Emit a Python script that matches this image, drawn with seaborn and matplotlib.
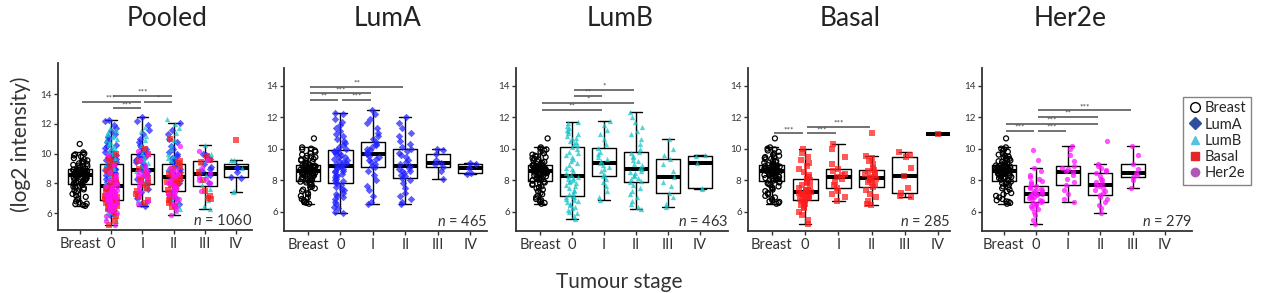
import numpy as np
import pandas as pd
import matplotlib
matplotlib.use("Agg")
import matplotlib.pyplot as plt
import seaborn as sns
from matplotlib.lines import Line2D

# ---------------- data ----------------
stages = ["Breast", "0", "I", "II", "III", "IV"]
subtypes = ["LumA", "LumB", "Basal", "Her2e"]
panels = ["Pooled", "LumA", "LumB", "Basal", "Her2e"]
n_labels = [1060, 465, 463, 285, 279]

breast = [6.5, 6.55, 6.62, 6.65, 6.72, 6.8, 6.9, 7.0, 7.1, 7.18, 7.3, 7.4, 7.48, 7.55, 7.6, 7.7, 7.76, 7.8, 7.85, 7.9, 7.97,
          8.0, 8.03, 8.07, 8.1, 8.13, 8.16, 8.2, 8.24, 8.26, 8.3, 8.33, 8.37, 8.4, 8.42, 8.44, 8.46, 8.48, 8.5, 8.52, 8.55,
          8.57, 8.59, 8.61, 8.63, 8.66, 8.67, 8.69, 8.71, 8.74, 8.75, 8.77, 8.8, 8.81, 8.83, 8.86, 8.87, 8.89, 8.91, 8.93, 8.95,
          9.0, 9.04, 9.1, 9.16, 9.2, 9.25, 9.31, 9.35, 9.4, 9.46, 9.5, 9.55, 9.62, 9.7, 9.8, 9.88, 9.95, 10.0, 10.08, 10.65]

luma_0 = [5.9, 6.0, 6.2, 6.3, 6.5, 6.6, 6.8, 6.9, 7.0, 7.1, 7.2, 7.35, 7.45, 7.55, 7.7, 7.8,
          7.85, 7.95, 8.0, 8.1, 8.2, 8.25, 8.3, 8.4, 8.5, 8.55, 8.6, 8.7, 8.75, 8.8, 8.9,
          8.95, 9.0, 9.1, 9.15, 9.2, 9.3, 9.35, 9.45, 9.5, 9.6, 9.65, 9.7, 9.8, 9.85, 9.92,
          10.0, 10.1, 10.2, 10.35, 10.5, 10.6, 10.8, 10.9, 11.1, 11.3, 11.5, 11.7, 11.9, 12.2, 12.29]
luma_1 = [6.49, 6.6, 7.0, 7.4, 7.6, 8.0, 8.3, 8.6, 8.81, 8.9, 9.0, 9.15, 9.25, 9.35, 9.45, 9.55, 9.64,
          9.7, 9.8, 9.9, 10.0, 10.1, 10.2, 10.3, 10.44, 10.6, 10.8, 11.0, 11.3, 11.6, 11.9, 12.2, 12.45]
luma_2 = [6.49, 6.6, 6.8, 7.0, 7.2, 7.5, 7.8, 8.0, 8.16, 8.25, 8.35, 8.45, 8.55, 8.6, 8.7, 8.8, 8.9,
          9.0, 9.15, 9.3, 9.45, 9.6, 9.7, 9.85, 9.96, 10.1, 10.3, 10.5, 10.8, 11.0, 11.3, 11.6, 12.03]
luma_3 = [8.05, 8.6, 8.86, 9.0, 9.1, 9.3, 9.66, 9.9, 10.0]
luma_4 = [8.4, 8.45, 8.8, 9.05, 9.1]

lumb_0 = [5.51, 5.7, 5.9, 6.0, 6.1, 6.2, 6.3, 6.4, 6.5, 6.6, 6.7, 6.75, 6.8, 6.9, 6.95, 7.0,
          7.1, 7.2, 7.3, 7.4, 7.5, 7.6, 7.7, 7.8, 7.85, 7.95, 8.0, 8.1, 8.15, 8.2, 8.26,
          8.35, 8.45, 8.6, 8.7, 8.8, 8.95, 9.1, 9.2, 9.35, 9.5, 9.6, 9.7, 9.8, 9.95, 10.1,
          10.2, 10.3, 10.4, 10.5, 10.6, 10.7, 10.8, 10.9, 11.0, 11.1, 11.2, 11.3, 11.45, 11.6, 11.7]
lumb_1 = [6.74, 6.9, 7.3, 7.6, 7.9, 8.1, 8.26, 8.4, 8.55, 8.7, 8.85, 8.95, 9.07,
          9.2, 9.35, 9.5, 9.65, 9.8, 10.02, 10.3, 10.6, 10.9, 11.2, 11.5, 11.78]
lumb_2 = [6.15, 6.3, 6.5, 6.7, 6.9, 7.1, 7.3, 7.5, 7.7, 7.86, 7.95, 8.05, 8.15, 8.25, 8.35, 8.45, 8.5, 8.6, 8.69,
          8.8, 8.95, 9.05, 9.2, 9.3, 9.45, 9.55, 9.7, 9.81, 10.0, 10.3, 10.6, 10.9, 11.1, 11.4, 11.7, 12.0, 12.35]
lumb_3 = [6.32, 6.5, 6.9, 7.16, 7.6, 7.9, 8.22, 8.6, 9.0, 9.34, 9.6, 10.0, 10.6]
lumb_4 = [7.45, 7.5, 9.07, 9.55, 9.6]

basal_0 = [5.2, 5.5, 5.8, 6.0, 6.2, 6.3, 6.4, 6.5, 6.6, 6.7, 6.74, 6.8, 6.85, 6.9, 6.95, 7.0, 7.05, 7.1, 7.15, 7.2, 7.23,
           7.3, 7.35, 7.4, 7.5, 7.6, 7.7, 7.8, 7.9, 8.0, 8.05, 8.2, 8.35, 8.5, 8.7, 8.9, 9.1, 9.3, 9.5, 9.7, 9.96]
basal_1 = [6.7, 6.9, 7.1, 7.3, 7.48, 7.7, 7.9, 8.05, 8.22, 8.3, 8.4, 8.55, 8.69, 9.0, 9.5, 10.0, 10.28]
basal_2 = [6.42, 6.5, 6.7, 6.9, 7.1, 7.35, 7.59, 7.7, 7.8, 7.9, 8.0, 8.05, 8.12,
           8.2, 8.3, 8.4, 8.45, 8.55, 8.64, 8.8, 9.0, 9.2, 9.4, 9.53, 10.97]
basal_3 = [6.95, 7.0, 7.16, 7.5, 8.26, 8.8, 9.45, 9.6, 9.81]
basal_4 = [10.93]

her2e_0 = [5.2, 5.5, 5.8, 6.0, 6.15, 6.25, 6.35, 6.45, 6.5, 6.55, 6.63, 6.7, 6.75, 6.8, 6.85, 6.9, 6.95, 7.0, 7.03, 7.06, 7.1,
           7.15, 7.2, 7.25, 7.3, 7.35, 7.4, 7.45, 7.5, 7.58, 7.65, 7.75, 7.85, 7.95, 8.05, 8.2, 8.35, 8.55, 8.75, 9.25, 9.9]
her2e_1 = [6.63, 6.8, 7.1, 7.4, 7.69, 7.9, 8.1, 8.35, 8.54, 8.6, 8.7, 8.8, 8.9, 9.2, 9.6, 10.0, 10.17]
her2e_2 = [5.9, 6.2, 6.4, 6.6, 6.8, 6.95, 7.06, 7.2, 7.3, 7.4, 7.5, 7.6, 7.69,
           7.8, 7.9, 8.0, 8.1, 8.25, 8.43, 8.55, 8.65, 8.8, 8.9, 9.02, 10.5]
her2e_3 = [7.52, 8.0, 8.22, 8.3, 8.43, 8.7, 9.02, 9.6, 10.17]
her2e_4 = []

# significance brackets: (from stage, to stage, height, label)
sig_pooled = [("0", "I", 13.04, "***"), ("Breast", "I", 13.45, "***"), ("I", "II", 13.45, "*"), ("0", "II", 13.9, "***")]
sig_luma = [("Breast", "0", 13.09, "**"), ("0", "I", 13.09, "***"), ("Breast", "I", 13.51, "***"), ("Breast", "II", 13.94, "**")]
sig_lumb = [("Breast", "I", 12.45, "**"), ("Breast", "II", 12.92, "*"), ("0", "I", 13.34, "**"), ("0", "II", 13.72, "*")]
sig_basal = [("Breast", "0", 10.97, "***"), ("0", "I", 10.97, "***"), ("0", "II", 11.4, "***")]
sig_her2e = [("Breast", "0", 11.14, "***"), ("0", "I", 11.14, "***"), ("Breast", "II", 11.57, "***"),
             ("0", "II", 11.99, "**"), ("0", "III", 12.43, "***")]

# ---------------- assemble long table ----------------
subtype_data = {
    "LumA": [luma_0, luma_1, luma_2, luma_3, luma_4],
    "LumB": [lumb_0, lumb_1, lumb_2, lumb_3, lumb_4],
    "Basal": [basal_0, basal_1, basal_2, basal_3, basal_4],
    "Her2e": [her2e_0, her2e_1, her2e_2, her2e_3, her2e_4],
}
rows = []
for p in panels:
    for v in breast:
        rows.append((p, "Breast", "Breast", v))
    for s in subtypes:
        if p != "Pooled" and p != s:
            continue
        for st, vals in zip(stages[1:], subtype_data[s]):
            for v in vals:
                rows.append((p, st, s, v))
data = pd.DataFrame(rows, columns=["panel", "stage", "group", "value"])
sigs = dict(zip(panels, [sig_pooled, sig_luma, sig_lumb, sig_basal, sig_her2e]))

# ---------------- style ----------------
sns.set_theme(style="ticks")
plt.rcParams["font.family"] = ["Lato", "DejaVu Sans"]
plt.rcParams["mathtext.fontset"] = "custom"
plt.rcParams["mathtext.it"] = "Lato:italic"
plt.rcParams["mathtext.rm"] = "Lato"

point_color = {"LumA": "#2020ff", "LumB": "#14c4c8", "Basal": "#ff1c1c", "Her2e": "#ff10ff"}
point_marker = {"LumA": "D", "LumB": "^", "Basal": "s", "Her2e": "o"}
legend_color = {"LumA": "#2f4f9f", "LumB": "#55c3dc", "Basal": "#e3262c", "Her2e": "#b256b5"}

W, H = 1267, 293
fig = plt.figure(figsize=(W / 100, H / 100), dpi=100)

panel_px = [(58, 252, 63, 230), (284, 487, 68, 231), (516, 728, 68, 231), (748, 950, 68, 231), (982, 1192, 68, 231)]
xlims = [(-0.705, 5.51), (-0.74, 5.52), (-0.75, 5.875), (-0.72, 5.36), (-0.67, 5.84)]
ylims = [(4.88, 16.08), (4.77, 15.12), (4.77, 15.12), (4.77, 15.12), (4.77, 15.12)]
title_x = [167, 388, 620, 850, 1070]

for i, p in enumerate(panels):
    l, r, t, b = panel_px[i]
    ax = fig.add_axes([l / W, 1 - b / H, (r - l) / W, (b - t) / H])
    df = data[data.panel == p]
    sns.boxplot(data=df, x="stage", y="value", order=stages, ax=ax, fill=False, color="black",
                width=0.75, showfliers=False, linewidth=1.0,
                medianprops=dict(linewidth=2.9, color="black", solid_capstyle="butt"), zorder=2)
    d = df[df.group == "Breast"]
    sns.stripplot(data=d, x="stage", y="value", order=stages, ax=ax, jitter=0.24, size=3.6,
                  color="none", edgecolor="black", linewidth=0.9, zorder=3)
    for s in subtypes:
        d = df[df.group == s]
        if d.empty:
            continue
        sns.stripplot(data=d, x="stage", y="value", order=stages, ax=ax, jitter=0.2, size=3.8,
                      color=point_color[s], marker=point_marker[s], alpha=0.72, linewidth=0, zorder=3)
    for a, bb, y, lab in sigs[p]:
        xa = stages.index(a) + 0.06
        xb = stages.index(bb) - 0.06
        ax.plot([xa, xb], [y, y], color="#5a5a5a", lw=1.2, solid_capstyle="butt", zorder=4)
        ax.text((xa + xb) / 2, y + 0.02, lab, ha="center", va="bottom", fontsize=6, color="#444444")
    ax.set_xlim(*xlims[i])
    ax.set_ylim(*ylims[i])
    ax.set_yticks([6, 8, 10, 12, 14])
    ax.set_xlabel("")
    ax.set_ylabel("")
    sns.despine(ax=ax)
    for sp in ["left", "bottom"]:
        ax.spines[sp].set_linewidth(1.3)
        ax.spines[sp].set_color("#333333")
    ax.tick_params(axis="y", labelsize=7, length=3, width=1, colors="#333333", pad=1.5)
    ax.tick_params(axis="x", labelsize=10.5, length=3, width=1, colors="#333333", pad=2)
    ax.text(1.0, 0.012, rf"$n$ = {n_labels[i]}", transform=ax.transAxes, ha="right", va="bottom",
            fontsize=10.5, color="#333333")
    fig.text(title_x[i] / W, 1 - 18 / H, p, ha="center", va="center", fontsize=19, color="#222222")

fig.text(21 / W, 1 - 144 / H, "(log2 intensity)", rotation=90, ha="center", va="center",
         fontsize=15, color="#333333")
fig.text(619 / W, 1 - 282 / H, "Tumour stage", ha="center", va="center", fontsize=15, color="#333333")

handles = [Line2D([], [], marker="o", ls="", mfc="none", mec="black", mew=1.0, ms=7)]
for s in subtypes:
    handles.append(Line2D([], [], marker=point_marker[s], ls="", color=legend_color[s], ms=6))
fig.legend(handles, ["Breast"] + subtypes, loc="upper left", bbox_to_anchor=(1183 / W, 1 - 97 / H),
           frameon=True, fancybox=False, edgecolor="#666666", fontsize=10.5, handletextpad=0.2,
           labelspacing=0.15, borderpad=0.3, handlelength=1.0, borderaxespad=0)

fig.savefig("out.png", dpi=100)
